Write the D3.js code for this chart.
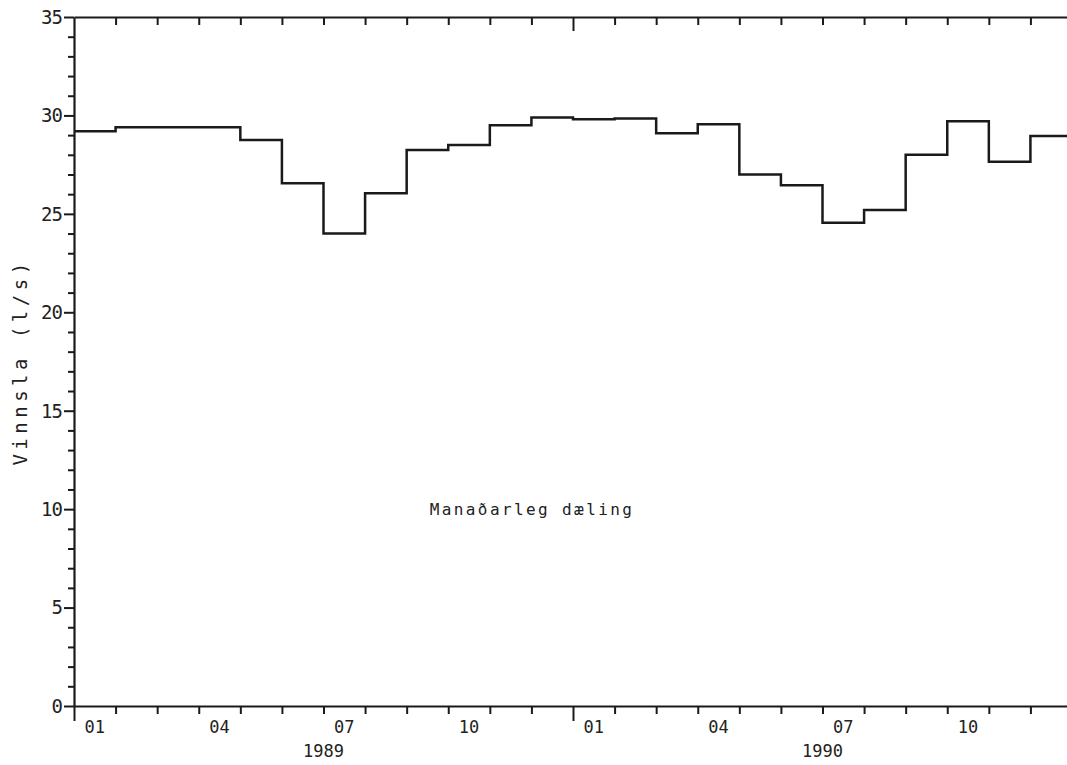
<!DOCTYPE html>
<html lang="en">
<head>
<meta charset="UTF-8">
<title>Vinnsla</title>
<style>
  html, body { margin: 0; padding: 0; background: #fff; }
  svg { display: block; }
  text { font-family: "DejaVu Sans Mono", "Liberation Mono", monospace; fill: #222; }
</style>
</head>
<body>
<script src="https://cdn.jsdelivr.net/npm/d3@7"></script>
<script>
// monthly values (l/s)
var values1989 = [29.2, 29.4, 29.4, 29.4, 28.75, 26.55, 24.0, 26.05, 28.25, 28.5, 29.5, 29.9];
var values1990 = [29.8, 29.85, 29.1, 29.55, 27.0, 26.45, 24.55, 25.2, 28.0, 29.7, 27.65, 28.95];
var years = ["1989", "1990"];
var monthLabels = ["01", "04", "07", "10"];
var monthLabelIdx = [0, 3, 6, 9];
var yTicks = [0, 5, 10, 15, 20, 25, 30, 35];

(function () {
    var W = 1067, H = 765;
    var m = { left: 74, right: 1072, top: 17, bottom: 706 };

    var values = values1989.concat(values1990);
    var nMonths = values.length;

    var x = d3.scaleLinear().domain([0, nMonths]).range([m.left, m.right]);
    var y = d3.scaleLinear().domain([0, 35]).range([m.bottom, m.top]);

    var svg = d3.select("body").append("svg")
        .attr("width", W)
        .attr("height", H);

    var ink = "#1a1a1a";

    // bottom axis, month ticks, year start longer
    var xb = svg.append("g")
        .attr("transform", "translate(0," + m.bottom + ")")
        .call(d3.axisBottom(x).tickValues(d3.range(0, nMonths + 1)).tickSize(8).tickSizeOuter(0).tickFormat(""));
    xb.selectAll(".tick line").attr("y2", function (d) { return d % 12 === 0 ? 15 : 8; });

    // top axis, ticks inward
    var xt = svg.append("g")
        .attr("transform", "translate(0," + m.top + ")")
        .call(d3.axisBottom(x).tickValues(d3.range(1, nMonths + 1)).tickSize(8).tickSizeOuter(0).tickFormat(""));
    xt.selectAll(".tick line").attr("y2", function (d) { return d % 12 === 0 ? 14 : 8; });

    // left axis, minor every 1, major every 5
    var yl = svg.append("g")
        .attr("transform", "translate(" + m.left + ",0)")
        .call(d3.axisLeft(y).tickValues(d3.range(0, 36)).tickSize(6).tickSizeOuter(0).tickFormat(""));
    yl.selectAll(".tick line").attr("x2", function (d) { return d % 5 === 0 ? -10 : -6; });

    // right axis (mostly off the page), ticks inward
    svg.append("g")
        .attr("transform", "translate(" + (m.right - 1) + ",0)")
        .call(d3.axisLeft(y).tickValues(d3.range(1, 35)).tickSize(-5).tickSizeOuter(0).tickFormat(""));

    svg.selectAll(".domain").attr("stroke", ink).attr("stroke-width", 2.2);
    svg.selectAll(".tick line").attr("stroke", ink).attr("stroke-width", 2);

    // y tick labels
    svg.selectAll(".ylab")
        .data(yTicks)
        .enter().append("text")
        .attr("x", m.left - 12)
        .attr("y", function (d) { return y(d); })
        .attr("dy", "0.36em")
        .attr("text-anchor", "end")
        .style("font-size", "19px")
        .style("letter-spacing", "-1px")
        .text(function (d) { return d; });

    // month labels, centred in the month
    var monthPos = [];
    years.forEach(function (yr, i) {
        monthLabelIdx.forEach(function (mi, j) {
            monthPos.push({ idx: i * 12 + mi, label: monthLabels[j] });
        });
    });
    svg.selectAll(".mlab")
        .data(monthPos)
        .enter().append("text")
        .attr("x", function (d) { return x(d.idx + 0.5); })
        .attr("y", 733)
        .attr("text-anchor", "middle")
        .style("font-size", "17px")
        .text(function (d) { return d.label; });

    svg.selectAll(".yrlab")
        .data(years)
        .enter().append("text")
        .attr("x", function (d, i) { return x(i * 12 + 6); })
        .attr("y", 757)
        .attr("text-anchor", "middle")
        .style("font-size", "17px")
        .text(function (d) { return d; });

    // axis title
    svg.append("text")
        .attr("transform", "translate(27,362) rotate(-90)")
        .attr("text-anchor", "middle")
        .style("font-size", "19px")
        .style("letter-spacing", "4.5px")
        .attr("xml:space", "preserve")
        .text("Vinnsla (l/s)");

    // note in plot
    svg.append("text")
        .attr("x", 532)
        .attr("y", 515)
        .attr("text-anchor", "middle")
        .style("font-size", "16px")
        .style("letter-spacing", "2.4px")
        .text("Manaðarleg dæling");

    // step line
    var pts = values.map(function (v, i) { return [i, v]; });
    pts.push([nMonths, values[nMonths - 1]]);
    var line = d3.line()
        .x(function (d) { return x(d[0]); })
        .y(function (d) { return y(d[1]); })
        .curve(d3.curveStepAfter);

    svg.append("path")
        .datum(pts)
        .attr("d", line)
        .attr("fill", "none")
        .attr("stroke", ink)
        .attr("stroke-width", 2.5);
})();
</script>
</body>
</html>
